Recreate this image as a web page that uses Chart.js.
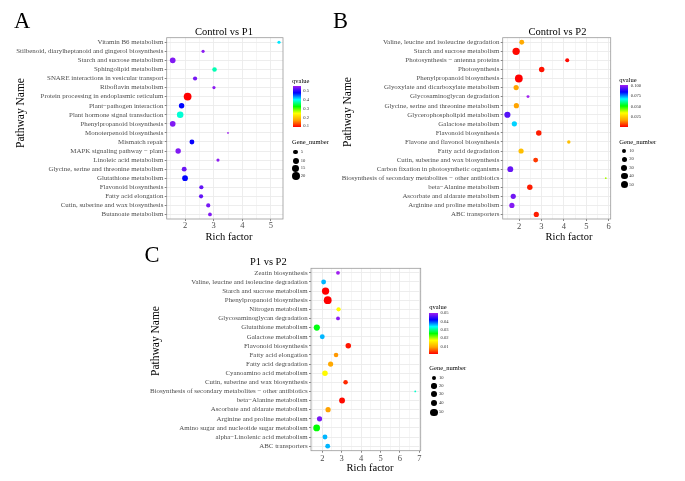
<!DOCTYPE html>
<html><head><meta charset="utf-8">
<script src="https://cdn.jsdelivr.net/npm/chart.js@4.4.0/dist/chart.umd.min.js"></script>
<style>
body{margin:0;background:#fff;width:685px;height:481px;position:relative;overflow:hidden;font-family:"Liberation Serif","Times New Roman",serif;}
canvas{position:absolute;}
.t{position:absolute;white-space:nowrap;color:#000;line-height:1;}
.bar{position:absolute;background:linear-gradient(to top,#ff0000 0%,#ffa500 16.67%,#ffff00 33.33%,#00ff00 50%,#00ffff 66.67%,#0000ff 83.33%,#a020f0 100%);}
.dot{position:absolute;border-radius:50%;background:#000;}
</style></head><body>
<script>
// ---------- Panel A: Control vs P1 ----------
const catsA = ["Vitamin B6 metabolism","Stilbenoid, diarylheptanoid and gingerol biosynthesis","Starch and sucrose metabolism","Sphingolipid metabolism","SNARE interactions in vesicular transport","Riboflavin metabolism","Protein processing in endoplasmic reticulum","Plant\u2212pathogen interaction","Plant hormone signal transduction","Phenylpropanoid biosynthesis","Monoterpenoid biosynthesis","Mismatch repair","MAPK signaling pathway \u2212 plant","Linoleic acid metabolism","Glycine, serine and threonine metabolism","Glutathione metabolism","Flavonoid biosynthesis","Fatty acid elongation","Cutin, suberine and wax biosynthesis","Butanoate metabolism"];
const richA = [5.28,2.63,1.57,3.03,2.35,3.01,2.09,1.88,1.83,1.57,3.50,2.24,1.76,3.15,1.97,2.00,2.57,2.56,2.81,2.87];
const qvalA = [0.41,0.55,0.545,0.38,0.54,0.55,0.09,0.48,0.39,0.545,0.56,0.485,0.545,0.55,0.535,0.48,0.53,0.53,0.54,0.545];
const genesA = [2,2,9,5,4,2,20,8,13,9,1,6,8,2,6,9,4,4,4,3];
const qBreaksA = ["0.1","0.2","0.3","0.4","0.5"];
const sizeBreaksA = [5,10,15,20];

// ---------- Panel B: Control vs P2 ----------
const catsB = ["Valine, leucine and isoleucine degradation","Starch and sucrose metabolism","Photosynthesis \u2212 antenna proteins","Photosynthesis","Phenylpropanoid biosynthesis","Glyoxylate and dicarboxylate metabolism","Glycosaminoglycan degradation","Glycine, serine and threonine metabolism","Glycerophospholipid metabolism","Galactose metabolism","Flavonoid biosynthesis","Flavone and flavonol biosynthesis","Fatty acid degradation","Cutin, suberine and wax biosynthesis","Carbon fixation in photosynthetic organisms","Biosynthesis of secondary metabolites \u2212 other antibiotics","beta\u2212Alanine metabolism","Ascorbate and aldarate metabolism","Arginine and proline metabolism","ABC transporters"];
const richB = [2.12,1.87,4.15,3.01,1.99,1.87,2.40,1.88,1.48,1.79,2.88,4.22,2.09,2.74,1.61,5.87,2.48,1.74,1.68,2.77];
const qvalB = [0.018,0.001,0.001,0.002,0.0001,0.017,0.102,0.017,0.094,0.071,0.003,0.022,0.022,0.006,0.096,0.040,0.003,0.097,0.099,0.003];
const genesB = [16,47,9,22,55,19,4,19,30,19,22,6,19,16,26,2,22,19,19,19];
const qBreaksB = ["0.025","0.050","0.075","0.100"];
const sizeBreaksB = [10,20,30,40,50];

// ---------- Panel C: P1 vs P2 ----------
const catsC = ["Zeatin biosynthesis","Valine, leucine and isoleucine degradation","Starch and sucrose metabolism","Phenylpropanoid biosynthesis","Nitrogen metabolism","Glycosaminoglycan degradation","Glutathione metabolism","Galactose metabolism","Flavonoid biosynthesis","Fatty acid elongation","Fatty acid degradation","Cyanoamino acid metabolism","Cutin, suberine and wax biosynthesis","Biosynthesis of secondary metabolites \u2212 other antibiotics","beta\u2212Alanine metabolism","Ascorbate and aldarate metabolism","Arginine and proline metabolism","Amino sugar and nucleotide sugar metabolism","alpha\u2212Linolenic acid metabolism","ABC transporters"];
const richC = [2.81,2.07,2.17,2.28,2.84,2.81,1.72,2.00,3.34,2.71,2.43,2.14,3.20,6.79,3.02,2.30,1.86,1.71,2.14,2.28];
const qvalC = [0.05,0.036,0.001,0.001,0.017,0.049,0.026,0.036,0.002,0.0085,0.0095,0.017,0.003,0.032,0.0015,0.009,0.048,0.0255,0.036,0.036];
const genesC = [8,16,47,55,11,8,30,16,22,13,19,22,13,2,26,19,19,38,16,16];
const qBreaksC = ["0.01","0.02","0.03","0.04","0.05"];
const sizeBreaksC = [10,20,30,40,50];

const FONT = '"Liberation Serif","Times New Roman",serif';
const ramp = [[255,0,0],[255,165,0],[255,255,0],[0,255,0],[0,255,255],[0,0,255],[160,32,240]];
function qColor(q, lo, hi){
  let t = (q-lo)/(hi-lo); t = Math.max(0, Math.min(1, t));
  const p = t*(ramp.length-1); const i = Math.min(Math.floor(p), ramp.length-2); const f = p-i;
  const c = ramp[i].map((v,k)=>Math.round(v+(ramp[i+1][k]-v)*f));
  return 'rgb('+c.join(',')+')';
}
function diam(g, lo, hi){ return 1.8 + 6.0*Math.sqrt(Math.max(0,(g-lo)/(hi-lo))); }

const frame = {id:'frame', afterDatasetsDraw(chart){
  const {ctx, chartArea:a} = chart; ctx.save(); ctx.strokeStyle='#9a9a9a'; ctx.lineWidth=0.8;
  ctx.strokeRect(a.left, a.top, a.right-a.left, a.bottom-a.top); ctx.restore(); }};

function label(text, x, y, size, anchor, rot, color){
  const d = document.createElement('div'); d.className='t'; d.textContent=text;
  d.style.fontSize=size+'px'; d.style.left=x+'px'; d.style.top=y+'px';
  if (color) d.style.color=color;
  const tx = anchor==='c' ? '-50%' : anchor==='r' ? '-100%' : '0';
  d.style.transform='translate('+tx+',-50%)'+(rot?' rotate('+rot+'deg)':'');
  document.body.appendChild(d); return d;
}

function panel(p){
  const gmin = Math.min(...p.genes), gmax = Math.max(...p.genes);
  const qmin = Math.min(...p.q), qmax = Math.max(...p.q);
  const data = p.cats.map((c,i)=>({x:p.rich[i], y:c, r:diam(p.genes[i],gmin,gmax)/2}));
  const colors = p.q.map(v=>qColor(v,qmin,qmax));
  const cv = document.createElement('canvas');
  cv.width=p.box.w; cv.height=p.box.h; cv.style.left=p.box.x+'px'; cv.style.top=p.box.y+'px';
  document.body.appendChild(cv);
  const a = p.area;
  const yW = a.l - p.box.x, padT = a.t - p.box.y, padR = p.box.x + p.box.w - a.r, xH = p.box.y + p.box.h - a.b;
  new Chart(cv, {
    type:'bubble',
    data:{datasets:[{data, backgroundColor:colors, borderWidth:0, hoverBorderWidth:0}]},
    options:{
      responsive:false, animation:false, devicePixelRatio:1,
      layout:{padding:{top:padT, right:padR, left:0, bottom:0}},
      plugins:{legend:{display:false}, tooltip:{enabled:false}},
      scales:{
        x:{type:'linear', min:p.xmin, max:p.xmax,
          ticks:{stepSize:0.5, includeBounds:false, autoSkip:false, maxRotation:0, padding:p.xpad,
            callback:v=>Number.isInteger(v)?String(v):'',
            font:{family:FONT, size:8.5, lineHeight:1}, color:'#4d4d4d'},
          grid:{color:'#ebebeb', lineWidth:c=>Number.isInteger(c.tick&&c.tick.value)?0.9:0.5,
            tickLength:2, tickWidth:0.6, tickColor:c=>Number.isInteger(c.tick&&c.tick.value)?'#333':'rgba(0,0,0,0)'},
          border:{display:false},
          afterFit:s=>{s.height=xH;}},
        y:{type:'category', labels:p.cats, offset:true,
          ticks:{autoSkip:false, padding:1.3, font:{family:FONT, size:6.9}, color:'#4d4d4d'},
          grid:{offset:false, color:'#ebebeb', lineWidth:0.9, tickLength:2, tickWidth:0.6, tickColor:'#333'},
          border:{display:false},
          afterFit:s=>{s.width=yW;}}
      }
    },
    plugins:[frame]
  });
  label(p.title, p.titlePos[0], p.titlePos[1], 10.5, 'c');
  label('Rich factor', p.xtitlePos[0], p.xtitlePos[1], 10.5, 'c');
  label('Pathway Name', p.ytitlePos[0], p.ytitlePos[1], 11.5, 'c', -90);
  label(p.letter, p.letterPos[0], p.letterPos[1], 22.5, 'l');
  const g = p.leg;
  label('qvalue', g.x, g.qTitleY, 6.5, 'l');
  const bar = document.createElement('div'); bar.className='bar';
  bar.style.left=g.barX+'px'; bar.style.top=g.barTop+'px'; bar.style.width=g.barW+'px'; bar.style.height=(g.barBot-g.barTop)+'px';
  document.body.appendChild(bar);
  p.qBreaks.forEach(b=>{
    const y = g.barBot - (parseFloat(b)-qmin)/(qmax-qmin)*(g.barBot-g.barTop);
    label(b, g.barX+g.barW+2.5, y, 4.6, 'l', 0, '#333');
  });
  label('Gene_number', g.x, g.gTitleY, 6.5, 'l');
  p.sizeBreaks.forEach((s,i)=>{
    const d = diam(s,gmin,gmax); const y = g.gY[i];
    const dot = document.createElement('div'); dot.className='dot';
    dot.style.width=d+'px'; dot.style.height=d+'px'; dot.style.left=(g.dotX-d/2)+'px'; dot.style.top=(y-d/2)+'px';
    document.body.appendChild(dot);
    label(String(s), g.dotX+5, y, 4.6, 'l', 0, '#333');
  });
}

panel({cats:catsA, rich:richA, q:qvalA, genes:genesA, qBreaks:qBreaksA, sizeBreaks:sizeBreaksA,
  xmin:1.36, xmax:5.42, xpad:0.3,
  box:{x:0,y:30,w:290,h:205}, area:{l:166.7,t:37.7,r:283,b:219},
  title:'Control vs P1', titlePos:[224,31.5], xtitlePos:[229,237], ytitlePos:[21,113],
  letter:'A', letterPos:[14,20.5],
  leg:{x:292,qTitleY:80.7,barX:292.7,barW:8,barTop:86,barBot:127.3,gTitleY:142.3,gY:[152,160.7,168.3,176.3],dotX:295.7}});

panel({cats:catsB, rich:richB, q:qvalB, genes:genesB, qBreaks:qBreaksB, sizeBreaks:sizeBreaksB,
  xmin:1.27, xmax:6.09, xpad:1.4,
  box:{x:335,y:30,w:280,h:205}, area:{l:502.7,t:37.7,r:610.7,b:219},
  title:'Control vs P2', titlePos:[557.5,32.3], xtitlePos:[569,237], ytitlePos:[348.3,112],
  letter:'B', letterPos:[333,20.5],
  leg:{x:619.3,qTitleY:80,barX:620,barW:8.3,barTop:85.3,barBot:127.3,gTitleY:141.7,gY:[151,159.3,167.7,176,184.7],dotX:624.3}});

panel({cats:catsC, rich:richC, q:qvalC, genes:genesC, qBreaks:qBreaksC, sizeBreaks:sizeBreaksC,
  xmin:1.42, xmax:7.07, xpad:2,
  box:{x:140,y:260,w:290,h:205}, area:{l:311,t:268.3,r:420.7,b:450.7},
  title:'P1 vs P2', titlePos:[268.3,262], xtitlePos:[370,468], ytitlePos:[155.5,341],
  letter:'C', letterPos:[144.5,254.5],
  leg:{x:429.3,qTitleY:306.7,barX:429.3,barW:8.7,barTop:313.3,barBot:354.3,gTitleY:368.3,gY:[377.7,386,394.3,403,412.3],dotX:434}});
</script>
</body></html>
